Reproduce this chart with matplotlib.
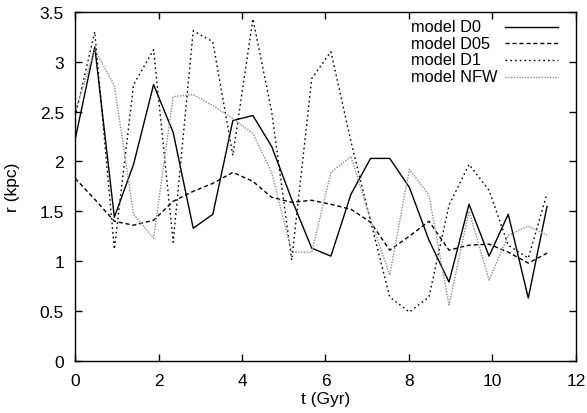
import matplotlib
matplotlib.use("Agg")
import matplotlib.pyplot as plt
from matplotlib.lines import Line2D

plt.rcParams['font.family'] = ['Liberation Sans', 'DejaVu Sans']

# time of each snapshot (Gyr)
t = [0.0, 0.47, 0.94, 1.40, 1.88, 2.35, 2.83, 3.30, 3.78, 4.26, 4.71, 5.19,
     5.67, 6.13, 6.61, 7.08, 7.54, 8.01, 8.48, 8.96, 9.44, 9.92, 10.38, 10.86, 11.31]

r_d0 = [2.22, 3.15, 1.44, 1.97, 2.77, 2.29, 1.33, 1.47, 2.41, 2.46, 2.15, 1.62,
        1.13, 1.05, 1.67, 2.03, 2.03, 1.74, 1.21, 0.79, 1.57, 1.05, 1.47, 0.63, 1.55]
r_d05 = [1.83, 1.62, 1.40, 1.36, 1.41, 1.60, 1.70, 1.78, 1.89, 1.80, 1.64, 1.59,
         1.61, 1.57, 1.52, 1.39, 1.11, 1.25, 1.40, 1.11, 1.16, 1.17, 1.09, 0.98, 1.08]
r_d1 = [2.45, 3.30, 1.12, 2.77, 3.12, 1.19, 3.31, 3.20, 2.06, 3.43, 2.50, 1.01,
        2.83, 3.10, 2.20, 1.40, 0.64, 0.49, 0.64, 1.56, 1.97, 1.71, 1.16, 1.03, 1.68]
r_nfw = [2.50, 3.12, 2.76, 1.47, 1.23, 2.65, 2.67, 2.56, 2.43, 2.28, 1.89, 1.09,
         1.09, 1.89, 2.05, 1.42, 0.86, 1.92, 1.66, 0.56, 1.50, 0.81, 1.26, 1.35, 1.26]

labels = ['model D0', 'model D05', 'model D1', 'model NFW']
series = [r_d0, r_d05, r_d1, r_nfw]
styles = [
    dict(color='black', linestyle='-'),
    dict(color='black', linestyle=(0, (3, 2))),
    dict(color='black', linestyle=(0, (1.2, 2.2))),
    dict(color='#8c8c8c', linestyle=(0, (1, 1))),
]

fig = plt.figure(figsize=(5.87, 4.14), dpi=100)
ax = fig.add_axes([0.128, 0.126, 0.853, 0.843])

for r, st in zip(series, styles):
    ax.plot(t, r, linewidth=1.0, **st)

ax.set_xlim(0, 12)
ax.set_ylim(0, 3.5)
ax.set_xticks([0, 2, 4, 6, 8, 10, 12])
ax.set_yticks([0, 0.5, 1, 1.5, 2, 2.5, 3, 3.5])
ax.set_yticklabels(['0', '0.5', '1', '1.5', '2', '2.5', '3', '3.5'])
ax.tick_params(direction='in', length=5, width=1, top=True, right=True,
               labelsize=12.5)
ax.tick_params(axis='x', pad=9)
ax.tick_params(axis='y', pad=8)
for s in ax.spines.values():
    s.set_linewidth(1.0)

ax.set_xlabel('t (Gyr)', fontsize=12.5)
ax.set_ylabel('r (kpc)', fontsize=12.5)
ax.xaxis.set_label_coords(0.5, -0.085)
ax.yaxis.set_label_coords(-0.11, 0.5)

# gnuplot-style key: left-aligned text, line sample on the right
y0, dy = 0.957, 0.0475
for i, (lab, st) in enumerate(zip(labels, styles)):
    yy = y0 - i * dy
    ax.text(0.671, yy, lab, transform=ax.transAxes, fontsize=11.8,
            ha='left', va='center')
    ax.add_line(Line2D([0.858, 0.964], [yy, yy], transform=ax.transAxes,
                       linewidth=1.0, **st))

plt.savefig('out.png', dpi=100)
